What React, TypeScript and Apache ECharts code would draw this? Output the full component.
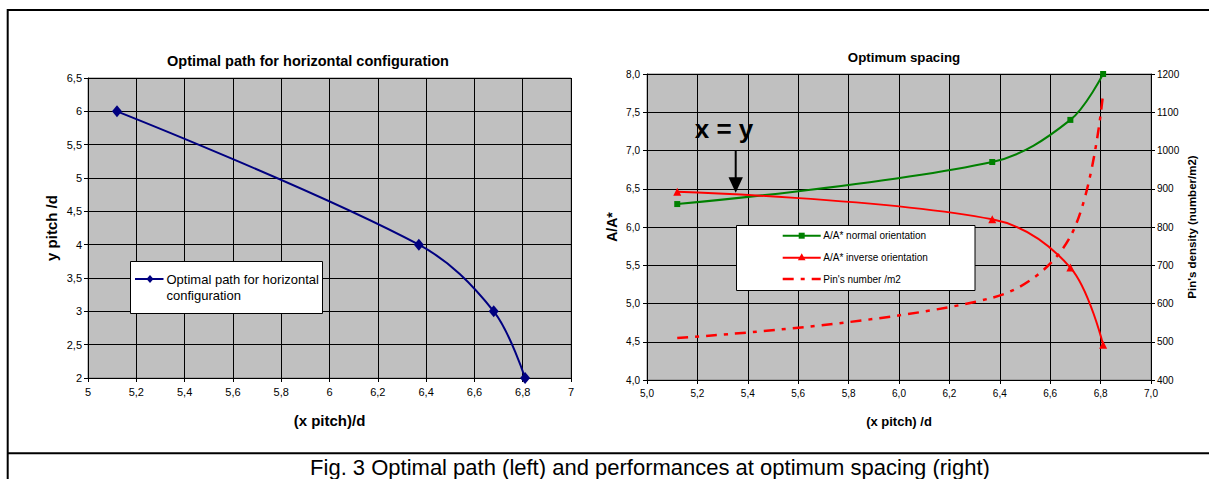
import React, { useEffect, useRef } from 'react';
import * as echarts from 'echarts';

const FONT = '"Liberation Sans", Arial, Helvetica, sans-serif';

const leftTitle = 'Optimal path for horizontal configuration';
const rightTitle = 'Optimum spacing';
const caption = 'Fig. 3 Optimal path (left) and performances at optimum spacing (right)';
const annotation = 'x = y';

const leftXName = '(x pitch)/d';
const leftYName = 'y pitch /d';
const rightXName = '(x pitch) /d';
const rightYName = 'A/A*';
const densityName = "Pin's density (number/m2)";

const pathName = 'Optimal path for horizontal configuration';
const pathLegendLines = ['Optimal path for horizontal', 'configuration'];
const normalName = 'A/A* normal orientation';
const inverseName = 'A/A* inverse orientation';
const pinsName = "Pin's number /m2";

// Left chart data
const pathX = [5.12, 6.37, 6.68, 6.81];
const pathY = [6.0, 4.0, 3.0, 2.0];

// Right chart data
const spacingX = [5.12, 6.37, 6.68, 6.81];
const normalY = [6.3, 6.85, 7.4, 8.0];
const inverseY = [6.46, 6.1, 5.47, 4.46];
const pinsY = [510, 615, 775, 1150];

// Tick values
const leftXTicks = [5, 5.2, 5.4, 5.6, 5.8, 6, 6.2, 6.4, 6.6, 6.8, 7];
const leftYTicks = [2, 2.5, 3, 3.5, 4, 4.5, 5, 5.5, 6, 6.5];
const rightXTicks = [5, 5.2, 5.4, 5.6, 5.8, 6, 6.2, 6.4, 6.6, 6.8, 7];
const rightYTicks = [4, 4.5, 5, 5.5, 6, 6.5, 7, 7.5, 8];
const densityTicks = [400, 500, 600, 700, 800, 900, 1000, 1100, 1200];

const zip = (xs: number[], ys: number[]) => xs.map((x, i) => [x, ys[i]]);
const range = (t: number[]) => ({ min: t[0], max: t[t.length - 1], interval: +(t[1] - t[0]).toFixed(4) });

const fmtShort = (v: number) => String(Math.round(v * 10) / 10).replace('.', ',');
const fmtOne = (v: number) => v.toFixed(1).replace('.', ',');
const fmtInt = (v: number) => String(Math.round(v));

const axisCommon = (fontSize: number) => ({
  axisLine: { show: true, onZero: false, lineStyle: { color: '#000', width: 1 } },
  axisTick: { show: true, inside: false, length: 4, lineStyle: { color: '#000' } },
  axisLabel: { color: '#000', fontSize, fontFamily: FONT },
  splitLine: { show: true, lineStyle: { color: '#000', width: 1 } },
  nameLocation: 'middle' as const,
  nameTextStyle: { color: '#000', fontFamily: FONT, fontWeight: 'bold' as const },
});

export default function App() {
  const ref = useRef<HTMLDivElement>(null);

  useEffect(() => {
    if (!ref.current) return;
    const chart = echarts.init(ref.current, undefined, { renderer: 'svg' });

    const legendZ = 50;
    const option: any = {
      animation: false,
      backgroundColor: '#ffffff',
      title: [
        {
          text: leftTitle, left: 308, top: 53, textAlign: 'center', padding: 0,
          textStyle: { fontFamily: FONT, fontSize: 14.5, fontWeight: 'bold', color: '#000' },
        },
        {
          text: rightTitle, left: 904, top: 50.5, textAlign: 'center', padding: 0,
          textStyle: { fontFamily: FONT, fontSize: 13.3, fontWeight: 'bold', color: '#000' },
        },
      ],
      grid: [
        { left: 88, top: 78, width: 483, height: 300, show: true, backgroundColor: '#c0c0c0', borderColor: '#808080', borderWidth: 1 },
        { left: 647, top: 74, width: 504, height: 306, show: true, backgroundColor: '#c0c0c0', borderColor: '#808080', borderWidth: 1 },
      ],
      xAxis: [
        {
          ...axisCommon(11), gridIndex: 0, type: 'value', ...range(leftXTicks),
          axisLabel: { ...axisCommon(11).axisLabel, margin: 8, formatter: fmtShort },
          name: leftXName, nameGap: 35, nameTextStyle: { ...axisCommon(11).nameTextStyle, fontSize: 15 },
        },
        {
          ...axisCommon(10), gridIndex: 1, type: 'value', ...range(rightXTicks),
          axisLabel: { ...axisCommon(10).axisLabel, margin: 8, formatter: fmtOne },
          name: rightXName, nameGap: 35, nameTextStyle: { ...axisCommon(10).nameTextStyle, fontSize: 13 },
        },
      ],
      yAxis: [
        {
          ...axisCommon(11), gridIndex: 0, type: 'value', ...range(leftYTicks),
          axisLabel: { ...axisCommon(11).axisLabel, margin: 6, formatter: fmtShort },
          name: leftYName, nameGap: 29, nameTextStyle: { ...axisCommon(11).nameTextStyle, fontSize: 15 },
        },
        {
          ...axisCommon(10), gridIndex: 1, type: 'value', position: 'left', ...range(rightYTicks),
          axisLabel: { ...axisCommon(10).axisLabel, margin: 7, formatter: fmtOne },
          name: rightYName, nameGap: 28, nameTextStyle: { ...axisCommon(10).nameTextStyle, fontSize: 14 },
        },
        {
          ...axisCommon(10), gridIndex: 1, type: 'value', position: 'right', ...range(densityTicks),
          splitLine: { show: false },
          axisLabel: { ...axisCommon(10).axisLabel, margin: 6, formatter: fmtInt },
          name: densityName, nameGap: 35, nameTextStyle: { ...axisCommon(10).nameTextStyle, fontSize: 11.5 },
        },
      ],
      series: [
        {
          type: 'line', name: pathName, xAxisIndex: 0, yAxisIndex: 0,
          data: zip(pathX, pathY), smooth: 0.35,
          symbol: 'diamond', symbolSize: [10, 12],
          lineStyle: { color: '#000080', width: 2 }, itemStyle: { color: '#000080' },
        },
        {
          type: 'line', name: normalName, xAxisIndex: 1, yAxisIndex: 1,
          data: zip(spacingX, normalY), smooth: 0.35,
          symbol: 'rect', symbolSize: 6,
          lineStyle: { color: '#008000', width: 2 }, itemStyle: { color: '#008000' },
        },
        {
          type: 'line', name: inverseName, xAxisIndex: 1, yAxisIndex: 1,
          data: zip(spacingX, inverseY), smooth: 0.35,
          symbol: 'triangle', symbolSize: 8,
          lineStyle: { color: '#ff0000', width: 2 }, itemStyle: { color: '#ff0000' },
        },
        {
          type: 'line', name: pinsName, xAxisIndex: 1, yAxisIndex: 2,
          data: zip(spacingX, pinsY), smooth: 0.35,
          symbol: 'none',
          lineStyle: { color: '#ff0000', width: 2.5, type: [11, 7, 4, 7] },
        },
      ],
      graphic: [
        // frame
        { type: 'line', z: 60, shape: { x1: 7.7, y1: 10, x2: 1209, y2: 10 }, style: { stroke: '#000', lineWidth: 2 } },
        { type: 'line', z: 60, shape: { x1: 7.7, y1: 9, x2: 7.7, y2: 479 }, style: { stroke: '#000', lineWidth: 2 } },
        { type: 'line', z: 60, shape: { x1: 7.7, y1: 453.3, x2: 1209, y2: 453.3 }, style: { stroke: '#000', lineWidth: 2 } },
        {
          type: 'text', z: 60, x: 650, y: 467,
          style: { text: caption, fontFamily: FONT, fontSize: 22, fill: '#000', align: 'center', verticalAlign: 'middle' },
        },
        // x = y annotation
        {
          type: 'text', z: legendZ, x: 724, y: 129,
          style: { text: annotation, fontFamily: FONT, fontSize: 26, fontWeight: 'bold', fill: '#000', align: 'center', verticalAlign: 'middle' },
        },
        { type: 'line', z: legendZ, shape: { x1: 735.7, y1: 150.7, x2: 735.7, y2: 178 }, style: { stroke: '#000', lineWidth: 2 } },
        { type: 'polygon', z: legendZ, shape: { points: [[728.5, 177.3], [742.9, 177.3], [735.7, 192.7]] }, style: { fill: '#000' } },
        // left legend
        { type: 'rect', z: legendZ, shape: { x: 130.5, y: 261.5, width: 192, height: 52 }, style: { fill: '#fff', stroke: '#000', lineWidth: 1 } },
        { type: 'line', z: legendZ, shape: { x1: 135, y1: 279, x2: 163.5, y2: 279 }, style: { stroke: '#000080', lineWidth: 2 } },
        { type: 'polygon', z: legendZ, shape: { points: [[150, 275], [153.5, 279], [150, 283], [146.5, 279]] }, style: { fill: '#000080' } },
        {
          type: 'text', z: legendZ, x: 166.5, y: 279,
          style: { text: pathLegendLines[0], fontFamily: FONT, fontSize: 13, fill: '#000', align: 'left', verticalAlign: 'middle' },
        },
        {
          type: 'text', z: legendZ, x: 166.5, y: 295.5,
          style: { text: pathLegendLines[1], fontFamily: FONT, fontSize: 13, fill: '#000', align: 'left', verticalAlign: 'middle' },
        },
        // right legend
        { type: 'rect', z: legendZ, shape: { x: 736.5, y: 225.5, width: 238.5, height: 65 }, style: { fill: '#fff', stroke: '#000', lineWidth: 1 } },
        { type: 'line', z: legendZ, shape: { x1: 782.7, y1: 235.7, x2: 820.7, y2: 235.7 }, style: { stroke: '#008000', lineWidth: 2 } },
        { type: 'rect', z: legendZ, shape: { x: 798.7, y: 232.7, width: 6, height: 6 }, style: { fill: '#008000' } },
        {
          type: 'text', z: legendZ, x: 823.3, y: 235.7,
          style: { text: normalName, fontFamily: FONT, fontSize: 10, fill: '#000', align: 'left', verticalAlign: 'middle' },
        },
        { type: 'line', z: legendZ, shape: { x1: 782.7, y1: 257.7, x2: 820.7, y2: 257.7 }, style: { stroke: '#ff0000', lineWidth: 2 } },
        { type: 'polygon', z: legendZ, shape: { points: [[801.7, 253.2], [805.5, 260.2], [797.9, 260.2]] }, style: { fill: '#ff0000' } },
        {
          type: 'text', z: legendZ, x: 823.3, y: 257.7,
          style: { text: inverseName, fontFamily: FONT, fontSize: 10, fill: '#000', align: 'left', verticalAlign: 'middle' },
        },
        { type: 'line', z: legendZ, shape: { x1: 782.7, y1: 279, x2: 820.7, y2: 279 }, style: { stroke: '#ff0000', lineWidth: 2.5, lineDash: [11, 7, 4, 7] } },
        {
          type: 'text', z: legendZ, x: 823.3, y: 279,
          style: { text: pinsName, fontFamily: FONT, fontSize: 10, fill: '#000', align: 'left', verticalAlign: 'middle' },
        },
      ],
    };

    chart.setOption(option);
    return () => chart.dispose();
  }, []);

  return (
    <div
      ref={ref}
      style={{ position: 'absolute', left: 0, top: 0, width: 1209, height: 479, background: '#fff' }}
    />
  );
}
